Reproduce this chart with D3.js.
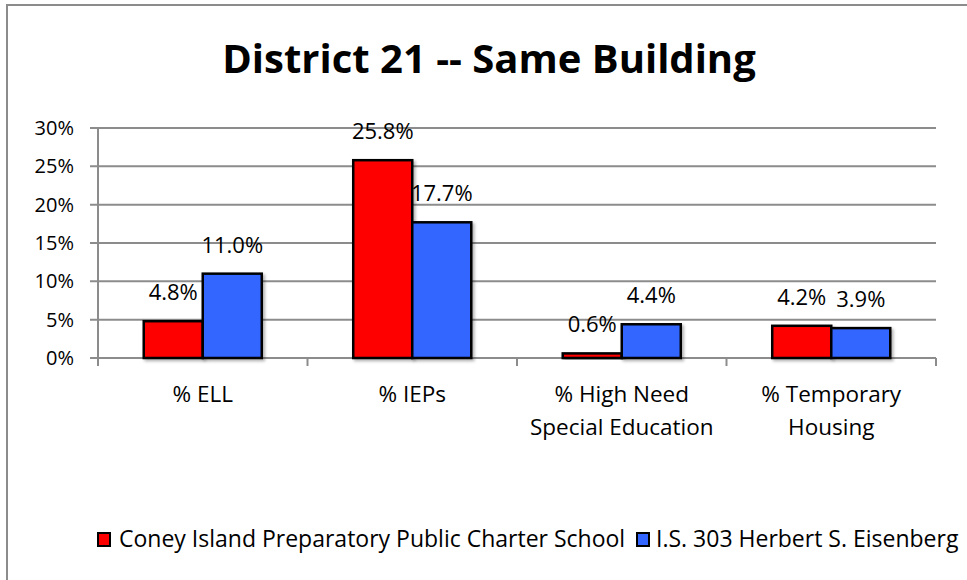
<!DOCTYPE html>
<html><head><meta charset="utf-8">
<script src="https://cdn.jsdelivr.net/npm/d3@7"></script>
<style>
body{margin:0;background:#fff;}
svg{display:block;font-family:"Open Sans", Lato, sans-serif;}
</style></head>
<body>
<svg id="c" width="967" height="580"></svg>
<script>
const title = "District 21 -- Same Building";
const categories = [["% ELL"], ["% IEPs"], ["% High Need", "Special Education"], ["% Temporary", "Housing"]];
const seriesNames = ["Coney Island Preparatory Public Charter School", "I.S. 303 Herbert S. Eisenberg"];
const coneyValues = [4.8, 25.8, 0.6, 4.2];
const is303Values = [11.0, 17.7, 4.4, 3.9];
const yTicks = [0, 5, 10, 15, 20, 25, 30];
const colors = ["#ff0000", "#3366ff"];

(function () {
const svg = d3.select("#c");
const W = 967, H = 580;
svg.append("rect").attr("x", 0).attr("y", 0).attr("width", W).attr("height", H).attr("fill", "#fff");
svg.append("rect").attr("x", 7).attr("y", 5).attr("width", W + 10).attr("height", H + 10)
  .attr("fill", "none").attr("stroke", "#8c8c8c").attr("stroke-width", 2);

const defs = svg.append("defs");
const f = defs.append("filter").attr("id", "sh").attr("x", "-20%").attr("y", "-20%").attr("width", "150%").attr("height", "150%");
f.append("feDropShadow").attr("dx", 2).attr("dy", 2).attr("stdDeviation", 1.5).attr("flood-color", "#000").attr("flood-opacity", 0.3);

const pl = 98, pr = 936, pt = 128, pb = 358;
const x = d3.scaleBand().domain(d3.range(categories.length)).range([pl, pr]).paddingInner(0).paddingOuter(0);
const xs = d3.scaleBand().domain([0, 1]).range([0, x.bandwidth()]).paddingInner(0).paddingOuter(0.775);
const y = d3.scaleLinear().domain([0, 30]).range([pb, pt]);

svg.append("text").attr("x", 489).attr("y", 73).attr("text-anchor", "middle")
  .attr("font-size", 40).attr("font-weight", "bold").attr("fill", "#000").text(title);

svg.append("g").selectAll("line").data(yTicks).join("line")
  .attr("x1", pl - 8).attr("x2", pr).attr("y1", d => y(d)).attr("y2", d => y(d))
  .attr("stroke", "#8c8c8c").attr("stroke-width", 2);
svg.append("line").attr("x1", pl).attr("x2", pl).attr("y1", pt).attr("y2", pb + 8)
  .attr("stroke", "#8c8c8c").attr("stroke-width", 2);
svg.append("g").selectAll("line").data(d3.range(categories.length + 1)).join("line")
  .attr("x1", i => pl + i * x.step()).attr("x2", i => pl + i * x.step())
  .attr("y1", pb).attr("y2", pb + 8).attr("stroke", "#8c8c8c").attr("stroke-width", 2);

svg.append("g").selectAll("text").data(yTicks).join("text")
  .attr("x", 74).attr("y", d => y(d) + 7).attr("text-anchor", "end")
  .attr("font-size", 20).attr("fill", "#000").text(d => d + "%");

const series = [coneyValues, is303Values];
series.forEach((vals, s) => {
  svg.append("g").selectAll("rect").data(vals).join("rect")
    .attr("x", (d, i) => x(i) + xs(s)).attr("width", xs.bandwidth())
    .attr("y", d => y(d)).attr("height", d => pb - y(d))
    .attr("fill", colors[s]).attr("stroke", "#000").attr("stroke-width", 2.5)
    .attr("filter", "url(#sh)");
});
series.forEach((vals, s) => {
  svg.append("g").selectAll("text").data(vals).join("text")
    .attr("x", (d, i) => x(i) + xs(s) + xs.bandwidth() / 2)
    .attr("y", d => y(d) - 21).attr("text-anchor", "middle")
    .attr("font-size", 22).attr("fill", "#000").text(d => d.toFixed(1) + "%");
});

const cg = svg.append("g");
categories.forEach((lines, i) => {
  lines.forEach((t, j) => {
    cg.append("text").attr("x", x(i) + x.bandwidth() / 2).attr("y", 402 + j * 33)
      .attr("text-anchor", "middle").attr("font-size", 22.5).attr("fill", "#000").text(t);
  });
});

const lg = svg.append("g");
const lx = [98, 637];
seriesNames.forEach((n, i) => {
  lg.append("rect").attr("x", lx[i]).attr("y", 533).attr("width", 12).attr("height", 13)
    .attr("fill", colors[i]).attr("stroke", "#000").attr("stroke-width", 2);
  lg.append("text").attr("x", lx[i] + (i === 0 ? 21 : 19)).attr("y", 547).attr("font-size", 23).attr("fill", "#000").text(n);
});
})();
</script>
</body></html>
